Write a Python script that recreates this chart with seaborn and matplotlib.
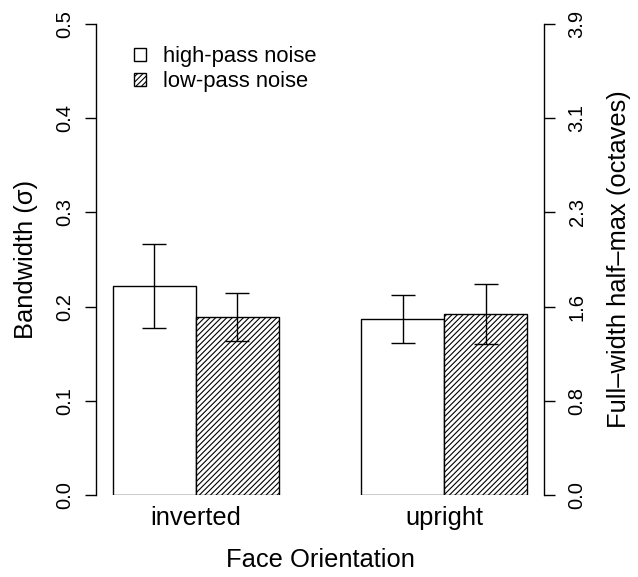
import numpy as np
import pandas as pd
import matplotlib
matplotlib.use("Agg")
import matplotlib.pyplot as plt
from matplotlib.patches import Patch
import seaborn as sns

# Bandwidth estimates (sigma) with standard errors
orientations = ["inverted", "upright"]
noise_types = ["high-pass noise", "low-pass noise"]
bandwidth = {
    "high-pass noise": [0.222, 0.187],
    "low-pass noise": [0.189, 0.192],
}
std_err = {
    "high-pass noise": [0.0446, 0.0258],
    "low-pass noise": [0.0253, 0.0320],
}
left_ticks = [0.0, 0.1, 0.2, 0.3, 0.4, 0.5]
left_tick_labels = ["0.0", "0.1", "0.2", "0.3", "0.4", "0.5"]
right_tick_labels = ["0.0", "0.8", "1.6", "2.3", "3.1", "3.9"]

df = pd.DataFrame({
    "orientation": orientations * len(noise_types),
    "noise": [n for n in noise_types for _ in orientations],
    "bandwidth": [v for n in noise_types for v in bandwidth[n]],
})

sns.set_theme(style="white")
plt.rcParams["font.family"] = ["Liberation Sans", "DejaVu Sans"]
plt.rcParams["hatch.linewidth"] = 0.8
plt.rcParams["hatch.color"] = "black"
for key in ("text.color", "axes.labelcolor", "xtick.color", "ytick.color"):
    plt.rcParams[key] = "black"

fig = plt.figure(figsize=(6.38, 5.77), dpi=100)
ax = fig.add_axes([96 / 638, 82 / 577, 448 / 638, 471 / 577])

sns.barplot(
    data=df, x="orientation", y="bandwidth", hue="noise",
    order=orientations, hue_order=noise_types,
    palette=["white", "white"], saturation=1, width=2 / 3,
    edgecolor="black", linewidth=1.0, errorbar=None, legend=False, ax=ax,
)

# hatch the low-pass bars and attach error bars at each bar centre
bar_containers = list(ax.containers)
for noise, container in zip(noise_types, bar_containers):
    centres, heights = [], []
    for patch in container:
        if noise == "low-pass noise":
            patch.set_hatch("//////")
        centres.append(patch.get_x() + patch.get_width() / 2)
        heights.append(patch.get_height())
    ax.errorbar(centres, heights, yerr=std_err[noise], fmt="none",
                ecolor="black", elinewidth=1.0, capsize=8.3, capthick=1.0)

ax.set_xlim(-0.4, 1.4)
ax.set_ylim(0, 0.5)
for side in ("top", "bottom", "right"):
    ax.spines[side].set_visible(False)
ax.spines["left"].set_color("black")
ax.spines["left"].set_linewidth(1.0)

ax.set_yticks(left_ticks)
ax.set_yticklabels(left_tick_labels)
ax.tick_params(axis="y", left=True, length=8, width=1.0, color="black",
               labelsize=14.5, labelrotation=90, pad=8)
plt.setp(ax.get_yticklabels(), va="center")
ax.tick_params(axis="x", bottom=False, length=0, labelsize=18.4, pad=8)

ax.set_xlabel("Face Orientation", fontsize=18.4, labelpad=13)
ax.set_ylabel("Bandwidth (σ)", fontsize=18.4, labelpad=12)

# secondary axis: full-width half-max in octaves
ax2 = ax.twinx()
ax2.set_ylim(0, 0.5)
for side in ("top", "bottom", "left"):
    ax2.spines[side].set_visible(False)
ax2.spines["right"].set_color("black")
ax2.spines["right"].set_linewidth(1.0)
ax2.set_yticks(left_ticks)
ax2.set_yticklabels(right_tick_labels)
ax2.tick_params(axis="y", right=True, length=8, width=1.0, color="black",
                labelsize=14.5, labelrotation=90, pad=9)
plt.setp(ax2.get_yticklabels(), va="center")
ax2.set_ylabel("Full–width half–max (octaves)", fontsize=18.4, labelpad=15)
ax2.grid(False)
ax.grid(False)

legend_handles = [
    Patch(facecolor="white", edgecolor="black", linewidth=1.0),
    Patch(facecolor="white", edgecolor="black", linewidth=1.0, hatch="//////"),
]
ax.legend(legend_handles, noise_types, loc="upper left",
          bbox_to_anchor=(38 / 448, 1 - 22 / 471), frameon=False,
          fontsize=15.8, handlelength=0.55, handleheight=0.55,
          handletextpad=0.75, labelspacing=0.2, borderpad=0, borderaxespad=0)

fig.savefig("out.png", dpi=100)
